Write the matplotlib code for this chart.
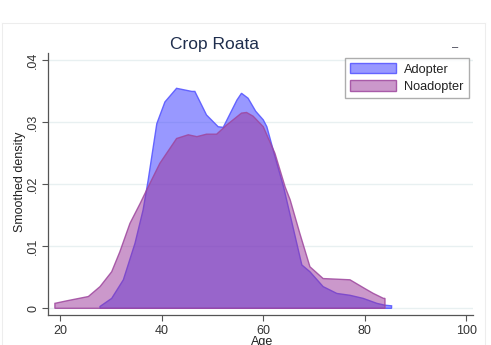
import numpy as np
import matplotlib
matplotlib.use("Agg")
import matplotlib.pyplot as plt

plt.rcParams['font.family'] = ['Liberation Sans', 'DejaVu Sans']

# Smoothed age densities for the two groups
adopter_age = [27.8, 30.1, 32.4, 34.7, 36.3, 37.3, 39.0, 40.6, 42.9, 45.9, 46.5,
               48.8, 51.1, 52.1, 54.8, 55.7, 57.0, 58.5, 60.0, 60.7, 62.3, 64.0,
               67.6, 69.2, 71.8, 74.5, 77.1, 79.7, 82.4, 84.0, 85.3]
adopter_density = [0.0003, 0.0016, 0.0046, 0.0105, 0.0159, 0.0207, 0.0298, 0.0333,
                   0.0355, 0.0350, 0.0350, 0.0312, 0.0293, 0.0292, 0.0336, 0.0347,
                   0.0339, 0.0318, 0.0304, 0.0293, 0.0245, 0.0196, 0.0070, 0.0059,
                   0.0035, 0.0024, 0.0021, 0.0016, 0.0008, 0.0005, 0.0004]

noadopter_age = [18.9, 21.2, 25.5, 27.8, 30.1, 31.7, 33.7, 35.7, 37.0, 39.6, 42.9,
                 45.2, 46.9, 48.8, 50.8, 52.8, 55.7, 56.7, 58.0, 60.0, 62.3, 64.3,
                 65.3, 67.2, 69.2, 71.8, 74.5, 77.1, 80.0, 81.7, 83.7, 84.0]
noadopter_density = [0.0008, 0.0012, 0.0019, 0.0035, 0.0059, 0.0091, 0.0137, 0.0169,
                     0.0191, 0.0234, 0.0274, 0.0280, 0.0277, 0.0281, 0.0281, 0.0296,
                     0.0315, 0.0316, 0.0310, 0.0293, 0.0250, 0.0196, 0.0175, 0.0121,
                     0.0067, 0.0048, 0.0047, 0.0046, 0.0032, 0.0024, 0.0016, 0.0016]

series_labels = ["Adopter", "Noadopter"]
x_ticks = [20, 40, 60, 80, 100]
y_ticks = [0, 0.01, 0.02, 0.03, 0.04]
y_tick_labels = ["0", ".01", ".02", ".03", ".04"]

W, H = 491, 345
fig = plt.figure(figsize=(W / 100, H / 100), dpi=100)

# faint outer graph-region frame
for (x0, y0, x1, y1) in [(2, 23, 485, 23), (2, 23, 2, 345), (485, 23, 485, 345)]:
    fig.add_artist(plt.Line2D([x0 / W, x1 / W], [1 - y0 / H, 1 - y1 / H],
                              color="#ededed", lw=0.8))

ax = fig.add_axes([47.7 / W, 30 / H, 425 / W, 262 / H])
ax.set_xlim(17.48, 101.3)
ax.set_ylim(-0.00108, 0.0412)

for y in y_ticks:
    ax.axhline(y, color="#e8f0f1", lw=1.0, zorder=0)


def area(ax, xs, ys, face, edge, label):
    xs = np.asarray(xs, float)
    ys = np.asarray(ys, float)
    px = np.concatenate([[xs[0]], xs, [xs[-1]]])
    py = np.concatenate([[0.0], ys, [0.0]])
    ax.fill(px, py, facecolor=face, edgecolor=edge, lw=1.0,
            label=label, zorder=2)


area(ax, adopter_age, adopter_density, (0.2, 0.2, 1.0, 0.5), (0.35, 0.35, 1.0, 0.9),
     series_labels[0])
area(ax, noadopter_age, noadopter_density, (0.6, 0.2, 0.6, 0.5), (0.62, 0.28, 0.62, 0.85),
     series_labels[1])

ax.set_xticks(x_ticks)
ax.set_yticks(y_ticks)
ax.set_yticklabels(y_tick_labels, rotation=90, va="center")
ax.tick_params(axis="both", colors="#555555", labelcolor="#333333", labelsize=9,
               length=4, width=0.8, direction="out")
ax.tick_params(axis="y", pad=2)
ax.tick_params(axis="x", pad=3)

for s in ["top", "right"]:
    ax.spines[s].set_visible(False)
for s in ["left", "bottom"]:
    ax.spines[s].set_color("#555555")
    ax.spines[s].set_linewidth(0.9)

leg = ax.legend(loc="upper right", bbox_to_anchor=(0.991, 0.982), fontsize=9.2,
                frameon=True, fancybox=False, edgecolor="#999999",
                handlelength=3.6, handleheight=0.9, handletextpad=0.65,
                labelspacing=0.35, borderpad=0.4, borderaxespad=0)
leg.get_frame().set_linewidth(1.0)
for t in leg.get_texts():
    t.set_color("#222222")

fig.text(215 / W, 1 - 44 / H, "Crop Roata", ha="center", va="center",
         fontsize=12.5, color="#1f2e4d")
fig.text(20 / W, 1 - 182 / H, "Smoothed density", rotation=90, ha="center",
         va="center", fontsize=9, color="#222222")
fig.text(262 / W, 1 - 342 / H, "Age", ha="center", va="center",
         fontsize=9, color="#222222")
fig.text(455 / W, 1 - 47 / H, "\u2013", ha="center", va="center",
         fontsize=8, color="#333344")

fig.savefig("out.png", dpi=100)
